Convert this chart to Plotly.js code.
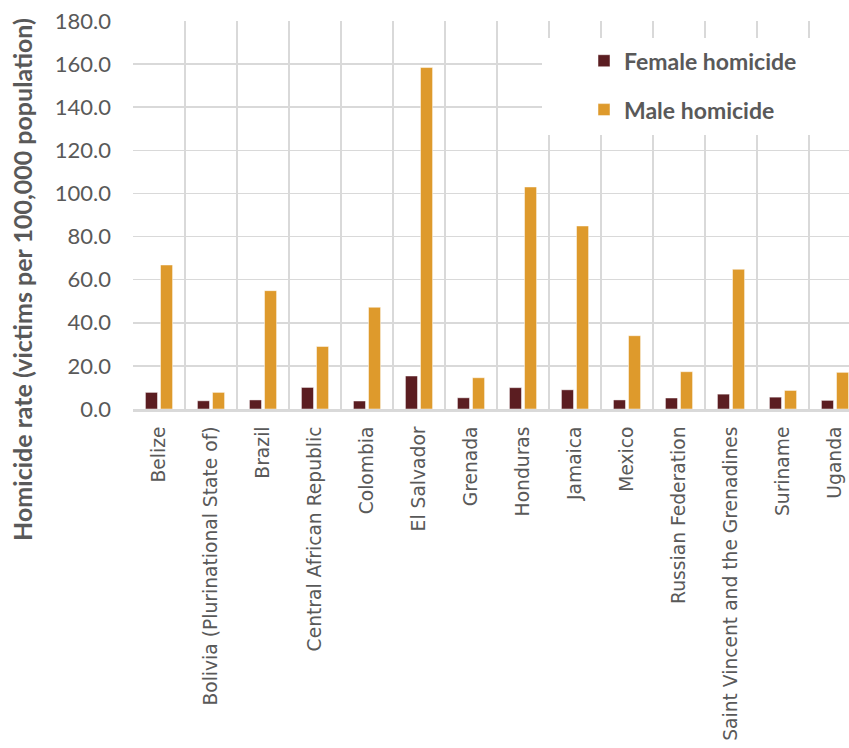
<!DOCTYPE html>
<html>
<head>
<meta charset="utf-8">
<script src="https://cdn.plot.ly/plotly-3.0.1.min.js"></script>
<style>
html, body { margin: 0; padding: 0; overflow: hidden; background: #fff; }
#chart { width: 870px; height: 748px; }
</style>
</head>
<body>
<div id="chart"></div>
<script>
const countries = ["Belize", "Bolivia (Plurinational State of)", "Brazil", "Central African Republic", "Colombia", "El Salvador", "Grenada", "Honduras", "Jamaica", "Mexico", "Russian Federation", "Saint Vincent and the Grenadines", "Suriname", "Uganda"];
const femaleHomicide = [7.7, 3.8, 4.2, 10.0, 3.7, 15.3, 5.2, 9.9, 8.9, 4.2, 5.1, 6.9, 5.5, 4.0];
const maleHomicide = [66.8, 7.7, 54.9, 29.0, 47.2, 158.4, 14.5, 103.0, 84.9, 34.0, 17.3, 64.8, 8.6, 17.0];
const yTickVals = [0, 20, 40, 60, 80, 100, 120, 140, 160, 180];
const yTickText = ["0.0", "20.0", "40.0", "60.0", "80.0", "100.0", "120.0", "140.0", "160.0", "180.0"];

const traces = [
  { type: "bar", name: "Female homicide", legendgroup: "f", x: countries, y: femaleHomicide,
    marker: { color: "#5b1d21", line: { color: "rgba(255,255,255,0.6)", width: 0.8 } } },
  { type: "bar", name: "Male homicide", legendgroup: "m", x: countries, y: maleHomicide,
    marker: { color: "#de9a2c", line: { color: "rgba(255,255,255,0.6)", width: 0.8 } } }
];

const layout = {
  width: 870, height: 748,
  margin: { l: 133, r: 9, t: 21, b: 339 },
  paper_bgcolor: "#ffffff", plot_bgcolor: "#ffffff",
  barmode: "group", bargap: 0.42, bargroupgap: 0.2,
  showlegend: true,
  legend: {
    x: (584 - 133) / 728, y: (409.3 - 39) / 388.6, xanchor: "left", yanchor: "top",
    bgcolor: "rgba(0,0,0,0)", borderwidth: 0,
    font: { family: "Lato, 'Noto Sans', sans-serif", size: 23, color: "#595959", weight: "bold" },
    tracegroupgap: 16
  },
  xaxis: {
    type: "category", tickangle: -90, tickson: "boundaries",
    showgrid: true, gridcolor: "#d9d9d9", gridwidth: 1.5,
    showline: true, linecolor: "#d9d9d9", linewidth: 3,
    ticks: "", ticklen: 0, ticklabelstandoff: 7,
    tickfont: { family: "'DejaVu Sans', sans-serif", size: 18.7, color: "#595959" },
    automargin: false, fixedrange: true
  },
  yaxis: {
    range: [0, 180], tickvals: yTickVals, ticktext: yTickText,
    showgrid: true, gridcolor: "#d9d9d9", gridwidth: 1.5,
    zeroline: false, showline: false, ticks: "",
    tickfont: { family: "Lato, 'Noto Sans', sans-serif", size: 22, color: "#595959" },
    ticklabelstandoff: 21,
    automargin: false, fixedrange: true
  },
  shapes: [
    { type: "rect", xref: "paper", yref: "paper", layer: "above",
      x0: (542 - 133) / 728, x1: 1.05, y0: (409.3 - 135) / 388.6, y1: (409.3 - 37.7) / 388.6,
      fillcolor: "#ffffff", line: { width: 0 } }
  ],
  annotations: [
    { text: "Homicide rate (victims per 100,000 population)", xref: "paper", yref: "paper",
      x: (22 - 133) / 728, y: (409.3 - 280) / 388.6, xanchor: "center", yanchor: "middle",
      textangle: -90, showarrow: false,
      font: { family: "Lato, 'Noto Sans', sans-serif", size: 25, color: "#595959", weight: "bold" } }
  ]
};

Plotly.newPlot("chart", traces, layout, { displayModeBar: false, staticPlot: true });
</script>
</body>
</html>
